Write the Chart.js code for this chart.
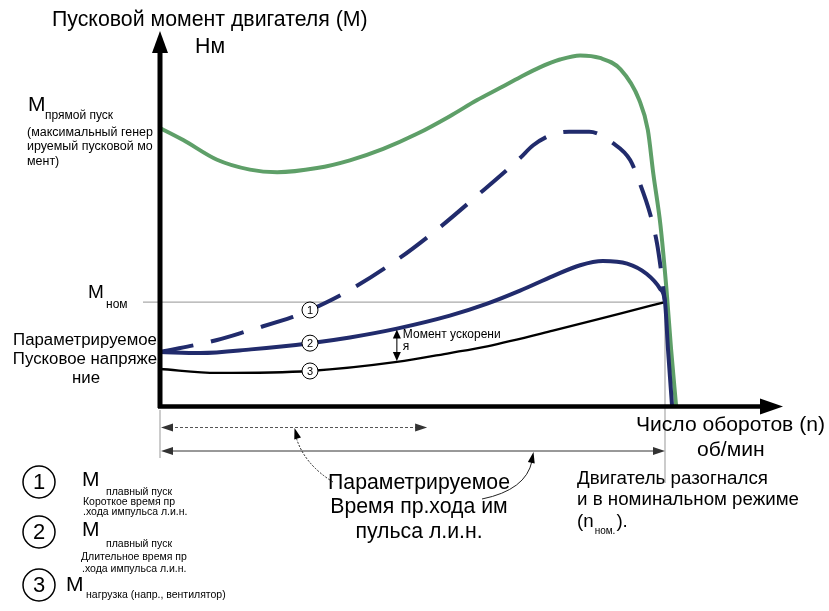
<!DOCTYPE html>
<html>
<head>
<meta charset="utf-8">
<script src="https://cdn.jsdelivr.net/npm/chart.js@4"></script>
<style>
  body { margin: 0; background: #fff; }
  canvas { display: block; }
</style>
</head>
<body>
<canvas id="myChart" width="829" height="611"></canvas>
<script>
// speed in % of nominal, torque in % of nominal torque
let speedDirect = [0, 4.6, 11.3, 17.8, 23.2, 31.1, 37.6, 44.2, 50.9, 57.4, 62.8, 67.3, 71.3, 75.2, 79.2, 83.2, 87.1, 91.2, 94.9, 96.6, 97.7, 99.1, 100.3, 101.2, 102.2];
let torqueDirect = [267.6, 256, 237, 227.5, 225, 229, 236.5, 247.5, 262, 279, 294.5, 306, 316.5, 326, 333.5, 337.5, 335, 324, 294.5, 265.7, 223, 174, 111.7, 55, 0];

let speedShort = [0, 11.3, 17.8, 26.3, 29.7, 37.6, 46.9, 54.9, 63.4, 71.3, 73.9, 77.8, 81, 85, 89.7, 93.1, 95, 97, 98.4, 99.2, 100];
let torqueShort = [52, 63.5, 73, 85.7, 92.4, 111.7, 140.5, 170, 205, 238.7, 251, 261.5, 264, 264, 253, 236.8, 214.6, 185.8, 157, 131, 100];

let speedLong = [0, 8, 18, 29.7, 37.6, 46.9, 57.4, 64.8, 71.3, 77.8, 83.2, 87.7, 92.5, 96.4, 99, 100, 100.6, 101.4];
let torqueLong = [52, 51, 54.5, 60.5, 66, 74.5, 87, 98.5, 111, 125, 135.5, 139.5, 137, 127, 113, 100, 54, 0];

let speedLoad = [0, 11.3, 29.7, 46.9, 57.4, 64.8, 77.8, 91.1, 100];
let torqueLoad = [35.6, 31.8, 33.7, 42.4, 51, 57.5, 72.5, 89, 100];

let nominalSpeed = 100;
let nominalTorque = 100;
let shortRampEnd = 52.9;
let markerSpeed = 29.7;
let accelSpeed = 46.9;

const FONT = '"Liberation Sans", Arial, sans-serif';
const GREEN = '#5e9f68';
const NAVY = '#212b6c';

let pts = (xs, ys) => xs.map((x, i) => ({ x: x, y: ys[i] }));

function setFont(ctx, size) { ctx.font = size + 'px ' + FONT; }
function label(ctx, s, x, y, size, align) {
  setFont(ctx, size);
  ctx.textAlign = align || 'left';
  ctx.textBaseline = 'middle';
  ctx.fillStyle = '#000';
  ctx.fillText(s, x, y);
  return ctx.measureText(s).width;
}
function fitSize(ctx, s, w) {
  setFont(ctx, 100);
  return 100 * w / ctx.measureText(s).width;
}
function head(ctx, x, y, ang, len, half) {
  ctx.save();
  ctx.translate(x, y);
  ctx.rotate(ang);
  ctx.beginPath();
  ctx.moveTo(0, 0);
  ctx.lineTo(-len, -half);
  ctx.lineTo(-len, half);
  ctx.closePath();
  ctx.fill();
  ctx.restore();
}
function marker(ctx, x, y, r, n, size, lw) {
  ctx.beginPath();
  ctx.arc(x, y, r, 0, Math.PI * 2);
  ctx.fillStyle = '#fff';
  ctx.fill();
  ctx.lineWidth = lw;
  ctx.strokeStyle = '#000';
  ctx.stroke();
  label(ctx, n, x, y + 0.5, size, 'center');
}

const diagram = {
  id: 'diagram',
  beforeDatasetsDraw(chart) {
    let ctx = chart.ctx;
    let xs = chart.scales.x, ys = chart.scales.y;
    let nx = xs.getPixelForValue(nominalSpeed), ny = ys.getPixelForValue(nominalTorque);
    ctx.save();
    ctx.strokeStyle = '#aaa';
    ctx.lineWidth = 1.2;
    ctx.beginPath();
    ctx.moveTo(143, ny);
    ctx.lineTo(nx, ny);
    ctx.moveTo(nx, ny);
    ctx.lineTo(nx, 483);
    ctx.stroke();
    ctx.restore();
  },
  afterDatasetsDraw(chart) {
    let ctx = chart.ctx;
    let a = chart.chartArea;
    let xs = chart.scales.x, ys = chart.scales.y;
    ctx.save();

    // axes with arrows
    ctx.strokeStyle = '#000';
    ctx.fillStyle = '#000';
    ctx.lineWidth = 5;
    ctx.beginPath();
    ctx.moveTo(a.left, a.bottom + 2);
    ctx.lineTo(a.left, 48);
    ctx.stroke();
    head(ctx, a.left, 31, -Math.PI / 2, 22, 8);
    ctx.lineWidth = 4.5;
    ctx.beginPath();
    ctx.moveTo(a.left - 2, a.bottom + 0.5);
    ctx.lineTo(764, a.bottom + 0.5);
    ctx.stroke();
    head(ctx, 783, a.bottom + 0.5, 0, 23, 8);

    // time arrows below the axis
    let x0 = a.left, xShort = xs.getPixelForValue(shortRampEnd), xNom = xs.getPixelForValue(nominalSpeed);
    ctx.strokeStyle = '#999';
    ctx.lineWidth = 1;
    ctx.beginPath();
    ctx.moveTo(x0, 410);
    ctx.lineTo(x0, 458);
    ctx.stroke();

    ctx.strokeStyle = '#555';
    ctx.fillStyle = '#333';
    ctx.setLineDash([3, 2]);
    ctx.beginPath();
    ctx.moveTo(x0 + 10, 427.5);
    ctx.lineTo(xShort - 10, 427.5);
    ctx.stroke();
    ctx.setLineDash([]);
    head(ctx, x0 + 1, 427.5, Math.PI, 12, 4);
    head(ctx, xShort, 427.5, 0, 12, 4);

    ctx.strokeStyle = '#333';
    ctx.beginPath();
    ctx.moveTo(x0 + 10, 451);
    ctx.lineTo(xNom - 10, 451);
    ctx.stroke();
    head(ctx, x0 + 1, 451, Math.PI, 12, 4);
    head(ctx, xNom, 451, 0, 12, 4);

    // curved pointers from the middle text
    ctx.strokeStyle = '#222';
    ctx.setLineDash([2, 1.5]);
    ctx.beginPath();
    ctx.moveTo(333, 482);
    ctx.quadraticCurveTo(304, 464, 296, 437);
    ctx.stroke();
    ctx.setLineDash([]);
    ctx.fillStyle = '#000';
    head(ctx, 294.5, 428, Math.atan2(437 - 464, 296 - 304), 11, 3.5);
    ctx.beginPath();
    ctx.moveTo(482, 499);
    ctx.quadraticCurveTo(526, 490, 532, 461);
    ctx.stroke();
    head(ctx, 533.5, 452, Math.atan2(461 - 490, 532 - 526), 11, 3.5);

    // acceleration torque arrow
    let ya = ys.getPixelForValue(torqueLong[speedLong.indexOf(accelSpeed)]);
    let yb = ys.getPixelForValue(torqueLoad[speedLoad.indexOf(accelSpeed)]);
    let xa = xs.getPixelForValue(accelSpeed);
    ctx.lineWidth = 1.2;
    ctx.beginPath();
    ctx.moveTo(xa, ya + 6);
    ctx.lineTo(xa, yb - 6);
    ctx.stroke();
    head(ctx, xa, ya + 1, -Math.PI / 2, 9, 4);
    head(ctx, xa, yb - 1, Math.PI / 2, 9, 4);
    label(ctx, 'Момент ускорени', xa + 6, 335, 12);
    label(ctx, 'я', xa + 6, 347, 12);

    // numbered markers on curves
    let mx = xs.getPixelForValue(markerSpeed);
    marker(ctx, mx, ys.getPixelForValue(torqueShort[speedShort.indexOf(markerSpeed)]), 8, '1', 11, 1);
    marker(ctx, mx, ys.getPixelForValue(torqueLong[speedLong.indexOf(markerSpeed)]), 8, '2', 11, 1);
    marker(ctx, mx, ys.getPixelForValue(torqueLoad[speedLoad.indexOf(markerSpeed)]), 8, '3', 11, 1);

    // titles
    let t = 'Пусковой момент двигателя (М)';
    let ts = fitSize(ctx, t, 316);
    label(ctx, t, 52, 20, ts);
    label(ctx, 'Нм', 195, 47, ts);

    label(ctx, 'М', 28, 105, 21);
    label(ctx, 'прямой пуск', 45, 116, 12);
    let ss = fitSize(ctx, '(максимальный генер', 126);
    label(ctx, '(максимальный генер', 27, 133, ss);
    label(ctx, 'ируемый пусковой мо', 27, 147, ss);
    label(ctx, 'мент)', 27, 162, ss);

    let ny = ys.getPixelForValue(nominalTorque);
    label(ctx, 'М', 88, ny - 9, 19);
    label(ctx, 'ном', 106, ny + 3, 12);

    let ps = fitSize(ctx, 'Параметрируемое', 144);
    label(ctx, 'Параметрируемое', 85, 340, ps, 'center');
    label(ctx, 'Пусковое напряже', 85, 359, ps, 'center');
    label(ctx, 'ние', 86, 378, ps, 'center');

    let xl = fitSize(ctx, 'Число оборотов (n)', 189);
    label(ctx, 'Число оборотов (n)', 636, 425, xl);
    label(ctx, 'об/мин', 697, 450, xl);

    let ds = fitSize(ctx, 'Двигатель разогнался', 191);
    label(ctx, 'Двигатель разогнался', 577, 479, ds);
    label(ctx, 'и в номинальном режиме', 577, 500, ds);
    let w = label(ctx, '(n', 577, 522, ds);
    let w2 = label(ctx, 'ном.', 577 + w + 1, 531, 10);
    label(ctx, ').', 577 + w + w2 + 2, 522, ds);

    let ms = fitSize(ctx, 'Параметрируемое', 182);
    label(ctx, 'Параметрируемое', 419, 483, ms, 'center');
    label(ctx, 'Время пр.хода им', 419, 507, ms, 'center');
    label(ctx, 'пульса л.и.н.', 419, 532, ms, 'center');

    // legend
    marker(ctx, 39, 482, 16, '1', 22, 1.5);
    label(ctx, 'М', 82, 480, 21);
    label(ctx, 'плавный пуск', 106, 492, 10.5);
    label(ctx, 'Короткое время пр', 83, 502, 10.5);
    label(ctx, '.хода импульса л.и.н.', 83, 512, 10.5);

    marker(ctx, 39, 532, 16, '2', 22, 1.5);
    label(ctx, 'М', 82, 530, 21);
    label(ctx, 'плавный пуск', 106, 544, 10.5);
    label(ctx, 'Длительное время пр', 81, 557, 10.5);
    label(ctx, '.хода импульса л.и.н.', 82, 569, 10.5);

    marker(ctx, 39, 585, 16, '3', 22, 1.5);
    label(ctx, 'М', 66, 585, 21);
    label(ctx, 'нагрузка (напр., вентилятор)', 86, 595, 10.5);

    ctx.restore();
  }
};

let ctx = document.getElementById('myChart').getContext('2d');

let chart = new Chart(ctx, {
  type: 'scatter',
  data: {
    datasets: [{
      label: 'М плавный пуск (длительное время)',
      data: pts(speedLong, torqueLong),
      borderColor: NAVY,
      borderWidth: 4,
      showLine: true,
      cubicInterpolationMode: 'monotone',
      clip: false
    }, {
      label: 'М плавный пуск (короткое время)',
      data: pts(speedShort, torqueShort),
      borderColor: NAVY,
      borderWidth: 4,
      borderDash: [34, 18],
      showLine: true,
      cubicInterpolationMode: 'monotone',
      clip: false
    }, {
      label: 'М нагрузка',
      data: pts(speedLoad, torqueLoad),
      borderColor: '#000',
      borderWidth: 2.3,
      showLine: true,
      cubicInterpolationMode: 'monotone',
      clip: false
    }, {
      label: 'М прямой пуск',
      data: pts(speedDirect, torqueDirect),
      borderColor: GREEN,
      borderWidth: 4,
      showLine: true,
      cubicInterpolationMode: 'monotone',
      clip: false
    }]
  },
  options: {
    responsive: false,
    animation: false,
    layout: { padding: { left: 160, right: 63, top: 32, bottom: 205 } },
    elements: { point: { radius: 0, hoverRadius: 0 } },
    scales: {
      x: { type: 'linear', min: 0, max: 120, display: false },
      y: { type: 'linear', min: 0, max: 360, display: false }
    },
    plugins: {
      legend: { display: false },
      tooltip: { enabled: false }
    }
  },
  plugins: [diagram]
});
</script>
</body>
</html>
